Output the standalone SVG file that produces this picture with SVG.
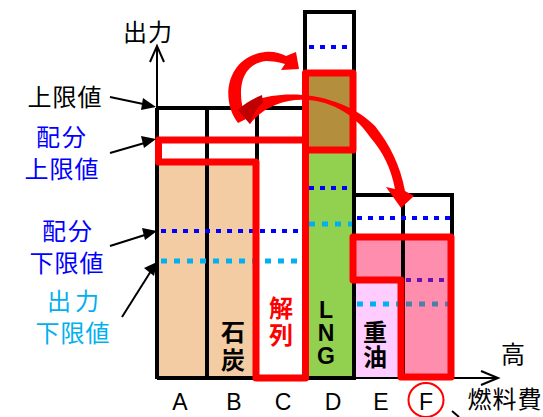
<svg xmlns="http://www.w3.org/2000/svg" width="543" height="417" viewBox="0 0 543 417">
<style>
.ol{fill:none;stroke:#000;stroke-width:4}
.ax{fill:none;stroke:#000;stroke-width:2}
.red{fill:none;stroke:#FF0000;stroke-width:7;stroke-linejoin:round}
.bd{fill:none;stroke:#0000FF;stroke-width:4;stroke-dasharray:5 6}
.lb{fill:none;stroke:#00B0F0;stroke-width:5;stroke-dasharray:6 7}
.t{font-family:"Noto Sans CJK JP","Noto Sans CJK SC",sans-serif;font-size:24px;text-anchor:middle}
.v{font-family:"Noto Sans CJK JP","Noto Sans CJK SC",sans-serif;font-size:24px;font-weight:bold;writing-mode:vertical-rl}
.b{font-weight:bold}
.l{font-family:"Liberation Sans",Arial,sans-serif;font-size:23px;text-anchor:middle}
.arr{fill:#FF0000}
</style>
<rect width="543" height="417" fill="#fff"/>

<g id="fills">
<rect x="159" y="165" width="96" height="213" fill="#F4CCA3"/>
<rect x="307" y="74" width="47" height="76" fill="#B38F3D"/>
<rect x="307" y="150" width="47" height="228" fill="#92D050"/>
<rect x="355" y="280" width="48" height="98" fill="#FFCCFF"/>
<rect x="355" y="237" width="48" height="43" fill="#FF8DAE"/>
<rect x="403" y="237" width="49" height="141" fill="#FF8DAE"/>
</g>

<g id="columns">
<path class="ol" d="M157,108 H305 M207,108 V378 M257,108 V378 M157,108 V378"/>
<rect class="ol" x="305" y="12" width="49" height="366"/>
<path class="ol" d="M354,195 H452 V378 M403,195 V378"/>
</g>

<g id="axes">
<path class="ax" d="M157,108 V47 M155,378 H497"/>
<path class="ol" d="M157,378 H354"/>
<path class="ax" d="M150,62 L157,46 L164,62 M481,371 L498,378 L481,385"/>
</g>

<g id="levels">
<path class="bd" d="M161,231 H302 M309,47 H352 M309,188 H352 M357,218 H450"/>
<path class="lb" d="M161,261 H302 M309,224 H352 M357,304 H400"/>
<path d="M406,280 H448" fill="none" stroke="#6A10B0" stroke-width="4" stroke-dasharray="5 6"/>
<path d="M406,304 H448" fill="none" stroke="#4F7FA6" stroke-width="5" stroke-dasharray="6 7"/>
</g>

<g id="allocation">
<path class="red" d="M158.5,140 H305.5 V378 H256 V162 H158.5 Z"/>
<rect class="red" x="305.5" y="73" width="47.5" height="77"/>
<path class="red" d="M353,237 H451 V377 H401 V280 H353 Z"/>
</g>

<g id="connectors">
<g id="arrow1">
<path class="arr" d="M238,123 C 220,100 226,57 265,52 C 273,51 280,53 286,56 L 296,52 L 299,69 L 281,70 L 285,64 C 279,62 272,61 266,61 C 240,64 236,92 246,119 Z"/>
</g>
<g id="arrow2">
<path class="arr" d="M238,110 C 262,88 335,86 375,126 C 390,145 400,165 405,191 L 414,196 L 401,208 L 386,187 L 395,189 C 391,168 383,152 370,137 C 340,92 278,88 250,124 Z"/>
<path d="M238,110 C 245,103 253,99 262,95 L 263,103 C 257,107 253,114 250,124 Z" fill="#C00000"/>
</g>
<g id="ptr-upper"><path class="ax" d="M110,97 L148,105"/><path d="M156,107 L143,98 L141,110 Z"/></g>
<g id="ptr-alloc-upper"><path class="ax" d="M110,153 L148,142"/><path d="M156,139 L141,136 L144,148 Z"/></g>
<g id="ptr-alloc-lower"><path class="ax" d="M110,246 L148,234"/><path d="M157,231 L142,228 L145,240 Z"/></g>
<g id="ptr-out-lower"><path class="ax" d="M122,317 L151,271"/><path d="M157,262 L144,268 L154,276 Z"/></g>
<path class="ax" d="M452,411 L459,417" stroke-width="1.5"/>
<ellipse cx="426" cy="400" rx="17.5" ry="17" fill="none" stroke="#FF0000" stroke-width="2"/>
</g>

<g id="labels">
<text class="t" x="148" y="41" letter-spacing="1">出力</text>
<text class="t" x="65" y="106" letter-spacing="1">上限値</text>
<text class="t" x="62" y="146" fill="#0000FF" letter-spacing="2">配分</text>
<text class="t" x="62" y="178" fill="#0000FF" letter-spacing="1">上限値</text>
<text class="t" x="68" y="240" fill="#0000FF" letter-spacing="2">配分</text>
<text class="t" x="67" y="272" fill="#0000FF" letter-spacing="1">下限値</text>
<text class="t" x="75" y="309.5" fill="#00B0F0" letter-spacing="4">出力</text>
<text class="t" x="73" y="342" fill="#00B0F0" letter-spacing="1">下限値</text>
<text class="t" x="513" y="363">高</text>
<text class="t" x="505" y="408" letter-spacing="1">燃料費</text>
</g>

<g id="fuel-labels">
<text class="v" x="233" y="320" letter-spacing="4">石炭</text>
<text class="v" x="281" y="296" letter-spacing="3" fill="#FF0000">解列</text>
<text class="v" x="326" y="297" style="font-family:'Liberation Sans',Arial,sans-serif;font-size:23px;text-orientation:upright" letter-spacing="-3">LNG</text>
<text class="v" x="375" y="320" letter-spacing="1">重油</text>
</g>

<g id="x-labels">
<text class="l" x="180" y="410">A</text>
<text class="l" x="234" y="410">B</text>
<text class="l" x="283" y="410">C</text>
<text class="l" x="333" y="410">D</text>
<text class="l" x="381" y="410">E</text>
<text class="l" x="426" y="410">F</text>
</g>
</svg>
